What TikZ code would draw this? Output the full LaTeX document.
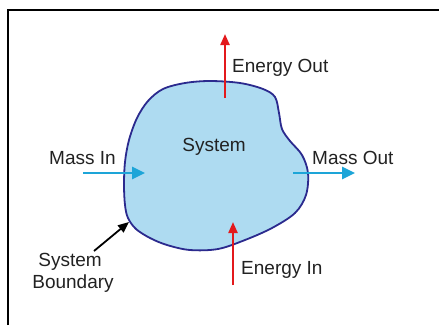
\documentclass[tikz,border=0pt]{standalone}
\usepackage{fontspec}
\setmainfont{Liberation Sans}
\usetikzlibrary{arrows.meta}
\definecolor{blobfill}{HTML}{AEDBF1}
\definecolor{blobline}{HTML}{2B2A8E}
\definecolor{massc}{HTML}{1DA5D8}
\definecolor{energyc}{HTML}{E3191C}
\definecolor{txt}{HTML}{222222}
\tikzset{
  lbl/.style={text=txt, font=\fontsize{19}{22}\selectfont, inner sep=0pt},
  massarrow/.style={draw=massc, line width=2.6pt, -{Triangle[length=13pt,width=12pt]}},
  energyarrow/.style={draw=energyc, line width=2.2pt, -{Triangle[length=11pt,width=9pt]}},
  bndarrow/.style={draw=black, line width=1.8pt, -{Triangle[length=11pt,width=9pt]}},
}
\begin{document}
\begin{tikzpicture}[x=1pt,y=-1pt]
\useasboundingbox (0,0) rectangle (439,325);
\fill[white] (0,0) rectangle (439,325);
% frame
\draw[line width=1.6pt, black] (8,325) -- (8,10) -- (439,10);
% system blob
\filldraw[fill=blobfill, draw=blobline, line width=1.8pt]
  plot[smooth cycle, tension=0.55] coordinates {
  (185,83) (163,89) (148,101) (137,118) (129,140) (125,162) (124,185) (125,205)
  (128,218) (136,229) (150,238) (167,245) (190,250) (218,249) (245,240)
  (272,228) (295,213) (306,195) (308,173) (302,155) (290,141) (282,129)
  (279,113) (275,97) (263,89) (240,83) (210,81)};
% coordinates
\coordinate (eoS) at (225,98);
\coordinate (eoE) at (225,34);
\coordinate (miS) at (83,173);
\coordinate (miE) at (145,173);
\coordinate (moS) at (293,173);
\coordinate (moE) at (355,173);
\coordinate (eiS) at (233,285);
\coordinate (eiE) at (233,222);
\coordinate (sbS) at (94,251);
\coordinate (sbE) at (129,222);
% arrows
\draw[energyarrow] (eoS) -- (eoE);
\draw[massarrow] (miS) -- (miE);
\draw[massarrow] (moS) -- (moE);
\draw[energyarrow] (eiS) -- (eiE);
\draw[bndarrow] (sbS) -- (sbE);
% labels
\node[lbl, anchor=west] (energyout) at (232,68) {Energy Out};
\node[lbl, anchor=west] (massin) at (49,158) {Mass In};
\node[lbl] (system) at (214,147) {System};
\node[lbl, anchor=west] (massout) at (312,158) {Mass Out};
\node[lbl, anchor=west] (energyin) at (241,270) {Energy In};
\node[lbl] (sysb1) at (70,262) {System};
\node[lbl] (sysb2) at (73,284) {Boundary};
\end{tikzpicture}
\end{document}
